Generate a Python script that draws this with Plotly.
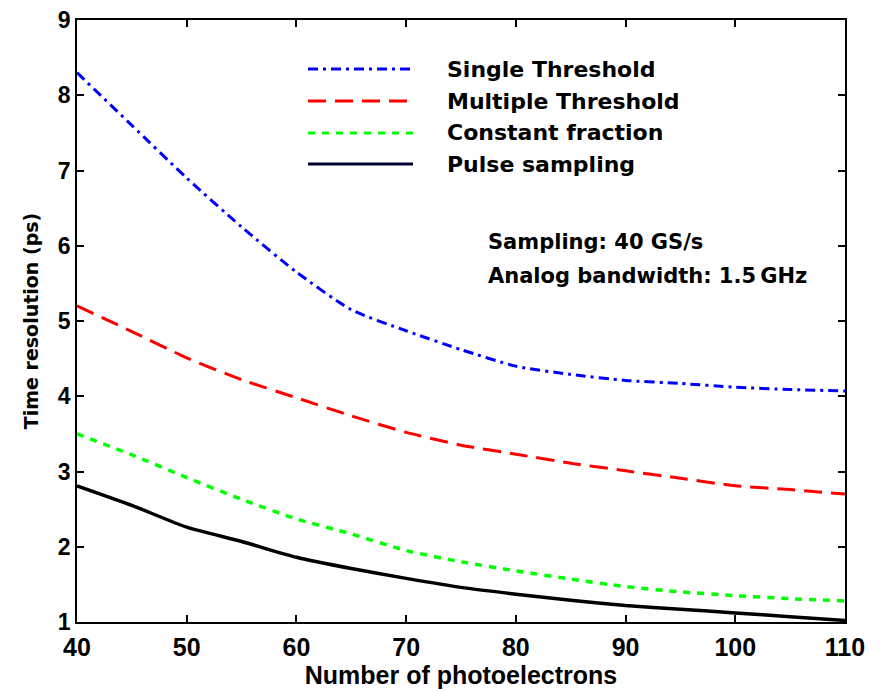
import plotly.graph_objects as go

# ---- data ----
photoelectrons = [40, 45, 50, 55, 60, 65, 70, 75, 80, 85, 90, 95, 100, 105, 110]
single_threshold = [8.3, 7.6, 6.9, 6.25, 5.65, 5.15, 4.87, 4.62, 4.4, 4.29, 4.21, 4.17, 4.12, 4.09, 4.07]
multiple_threshold = [5.2, 4.86, 4.51, 4.22, 3.98, 3.74, 3.52, 3.35, 3.23, 3.11, 3.01, 2.91, 2.81, 2.76, 2.70]
constant_fraction = [3.5, 3.22, 2.92, 2.63, 2.37, 2.17, 1.95, 1.8, 1.68, 1.57, 1.47, 1.40, 1.35, 1.31, 1.28]
pulse_sampling = [2.81, 2.55, 2.26, 2.07, 1.86, 1.71, 1.58, 1.46, 1.37, 1.29, 1.22, 1.17, 1.12, 1.07, 1.02]

series_names = ["Single Threshold", "Multiple Threshold", "Constant fraction", "Pulse sampling"]
x_ticks = [40, 50, 60, 70, 80, 90, 100, 110]
y_ticks = [1, 2, 3, 4, 5, 6, 7, 8, 9]
notes = ["Sampling: 40 GS/s", "Analog bandwidth: 1.5\u2009GHz"]

# ---- styles ----
styles = [
    dict(color="#0000FF", width=3, dash="10px,5px,3px,5px"),
    dict(color="#FF0000", width=3, dash="18px,9px"),
    dict(color="#00FF00", width=3.5, dash="7px,7px"),
    dict(color="#000000", width=3.5, dash="solid"),
]
legend_line_colors = ["#0000FF", "#FF0000", "#00FF00", "#000033"]

FONT = "DejaVu Sans, Verdana, sans-serif"
NARROW = "Liberation Sans Narrow, Arial Narrow, Liberation Sans, sans-serif"

fig = go.Figure()
for name, ys, st in zip(series_names,
                        [single_threshold, multiple_threshold, constant_fraction, pulse_sampling],
                        styles):
    fig.add_trace(go.Scatter(x=photoelectrons, y=ys, mode="lines", name=name,
                             line=dict(color=st["color"], width=st["width"], dash=st["dash"],
                                       shape="spline", smoothing=0.6),
                             showlegend=False))

# page has an 8px body margin; target plot area in window pixels:
# left 77, right 845, top ~20, bottom 622
OFF = 8
W, H = 874, 683
L, R, T, B = 77 - OFF, 845 - OFF, 20 - OFF, 622 - OFF


def px_x(p):
    return (p - OFF - L) / (R - L)


def px_y(p):
    return (B - (p - OFF)) / (B - T)


shapes = []
annotations = []
row_y = [69, 101, 133, 164]
for i, name in enumerate(series_names):
    st = styles[i]
    shapes.append(dict(type="line", xref="paper", yref="paper",
                       x0=px_x(308), x1=px_x(413), y0=px_y(row_y[i]), y1=px_y(row_y[i]),
                       line=dict(color=legend_line_colors[i], width=3, dash=st["dash"])))
    annotations.append(dict(text="<b>%s</b>" % name, xref="paper", yref="paper",
                            x=px_x(445), y=px_y(row_y[i]), xanchor="left", yanchor="middle",
                            showarrow=False, font=dict(family=FONT, size=22, color="black")))

for j, note in enumerate(notes):
    annotations.append(dict(text="<b>%s</b>" % note, xref="paper", yref="paper",
                            x=px_x(486), y=px_y([242, 276][j]), xanchor="left", yanchor="middle",
                            showarrow=False, font=dict(family=FONT, size=21, color="black")))

axis_common = dict(showgrid=False, zeroline=False, showline=True, linecolor="black", linewidth=1.5,
                   mirror="allticks", ticks="inside", ticklen=7, tickcolor="black", tickwidth=1.5,
                   ticklabeloverflow="allow")

fig.update_layout(
    width=W, height=H,
    margin=dict(l=L, r=W - R, t=T, b=H - B, autoexpand=False),
    paper_bgcolor="white", plot_bgcolor="white",
    shapes=shapes, annotations=annotations,
    xaxis=dict(range=[40, 110], tickvals=x_ticks, ticktext=["<b>%d</b>" % v for v in x_ticks],
               ticklabelstandoff=2,
               tickfont=dict(family=NARROW, size=25, color="black"),
               title=dict(text="<b>Number of photoelectrons</b>", font=dict(family=NARROW, size=25, color="black"),
                          standoff=4),
               **axis_common),
    yaxis=dict(range=[1, 9], tickvals=y_ticks, ticktext=["<b>%d</b>" % v for v in y_ticks],
               tickfont=dict(family=NARROW, size=23, color="black"),
               title=dict(text="<b>Time resolution (ps)</b>", font=dict(family=FONT, size=19, color="black"),
                          standoff=14),
               **axis_common),
)

fig.write_html("out.html")
